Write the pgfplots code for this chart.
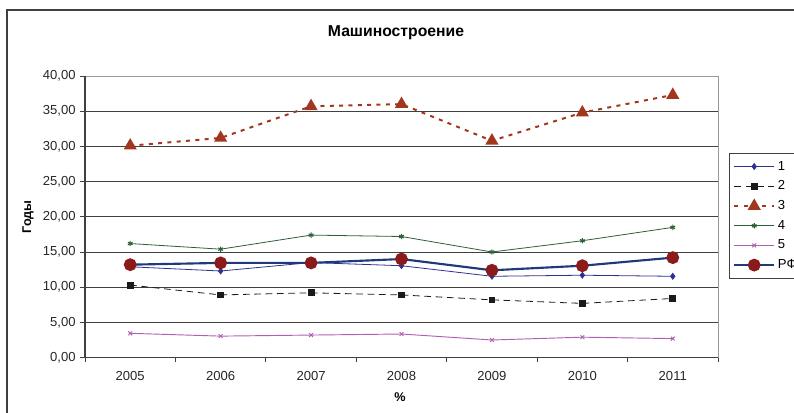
\documentclass[border=0pt]{standalone}
\usepackage{fontspec}
\setmainfont{Liberation Sans}
\usepackage{pgfplots}
\pgfplotsset{compat=1.18}
\usepackage{pgfplotstable}

\definecolor{sone}{HTML}{2E3192}
\definecolor{stwo}{HTML}{1A1A1A}
\definecolor{sthree}{HTML}{A3361E}
\definecolor{sfour}{HTML}{2F5F35}
\definecolor{sfive}{HTML}{B060B0}
\definecolor{rfline}{HTML}{1F3A7A}
\definecolor{rfmark}{HTML}{8B1A1A}
\definecolor{frame}{HTML}{404040}

% years 2005..2011 plotted at 0..6
\pgfplotstableread{
x  s1     s2     s3     s4     s5    rf
0  12.90  10.30  30.10  16.20  3.45  13.20
1  12.30   8.90  31.20  15.40  3.05  13.45
2  13.50   9.20  35.70  17.40  3.20  13.45
3  13.05   8.90  36.00  17.20  3.35  14.00
4  11.55   8.20  30.80  15.00  2.50  12.40
5  11.70   7.70  34.80  16.60  2.90  13.05
6  11.55   8.40  37.30  18.50  2.70  14.20
}\datatable

\begin{document}
\begin{tikzpicture}
% picture area (1px = 0.75pt)
\useasboundingbox (0,0) rectangle (595.5pt,309.75pt);
\draw[frame, line width=0.8pt] (5.25pt,-10pt) -- (5.25pt,302.25pt) -- (610pt,302.25pt);

\node[font=\fontsize{11.8}{13}\selectfont\bfseries] at (297pt,285pt) {Машиностроение};
\node[font=\fontsize{9.5}{11}\selectfont\bfseries, rotate=90] at (21pt,147pt) {Годы};
\node[font=\fontsize{9.5}{11}\selectfont\bfseries] at (300pt,12pt) {\%};

\begin{axis}[
  at={(63.75pt,41.55pt)}, anchor=south west,
  scale only axis, width=474.75pt, height=211.2pt,
  xmin=-0.5, xmax=6.5, ymin=0, ymax=40,
  xtick={0,...,6},
  xticklabels={2005,2006,2007,2008,2009,2010,2011},
  minor xtick={-0.5,0.5,...,6.5},
  ytick={0,5,...,40},
  tick pos=left,
  major x tick style={draw=none},
  tick align=outside,
  major tick length=3.5pt, minor tick length=3.5pt,
  tick style={frame, line width=0.6pt},
  ymajorgrids,
  grid style={frame, line width=0.6pt},
  axis line style={draw=gray!80, line width=0.6pt},
  ticklabel style={font=\fontsize{9.8}{11}\selectfont, text=black!85},
  xticklabel style={yshift=-3pt},
  yticklabel style={/pgf/number format/.cd, fixed, fixed zerofill, precision=2, use comma, assume math mode=true},
  legend style={at={(1.017,0.7255)}, anchor=north west, draw=frame, line width=0.6pt,
    font=\fontsize{9.8}{11}\selectfont, row sep=2.5pt, inner xsep=3pt, inner ysep=3.5pt,
    /tikz/every even column/.append style={column sep=1pt}},
  legend cell align=left,
  legend image code/.code={\draw[mark repeat=2,mark phase=2] plot coordinates {(0pt,0pt) (15pt,0pt) (30pt,0pt)};},
  clip=false,
  after end axis/.code={
    \draw[frame, line width=0.8pt] (rel axis cs:0,1) -- (rel axis cs:0,0) -- (rel axis cs:1,0);
  },
]
\addplot[sone, line width=0.6pt, mark=diamond*, mark size=2.2pt] table[x=x, y=s1] {\datatable};
\addlegendentry{1}
\addplot[stwo, line width=0.6pt, dash pattern=on 5pt off 3.5pt, mark=square*, mark size=2.2pt, mark options={solid}] table[x=x, y=s2] {\datatable};
\addlegendentry{2}
\addplot[sthree, line width=1.5pt, dash pattern=on 3pt off 4pt, mark=triangle*, mark size=4.2pt, mark options={solid}] table[x=x, y=s3] {\datatable};
\addlegendentry{3}
\addplot[sfour, line width=0.6pt, mark=asterisk, mark size=2pt, mark options={line width=0.8pt}] table[x=x, y=s4] {\datatable};
\addlegendentry{4}
\addplot[sfive, line width=0.7pt, mark=x, mark size=2pt, mark options={line width=0.7pt}] table[x=x, y=s5] {\datatable};
\addlegendentry{5}
\addplot[rfline, line width=1.6pt, mark=*, mark size=4pt, mark options={fill=rfmark, draw=rfmark}] table[x=x, y=rf] {\datatable};
\addlegendentry{РФ}
\end{axis}
\end{tikzpicture}
\end{document}
